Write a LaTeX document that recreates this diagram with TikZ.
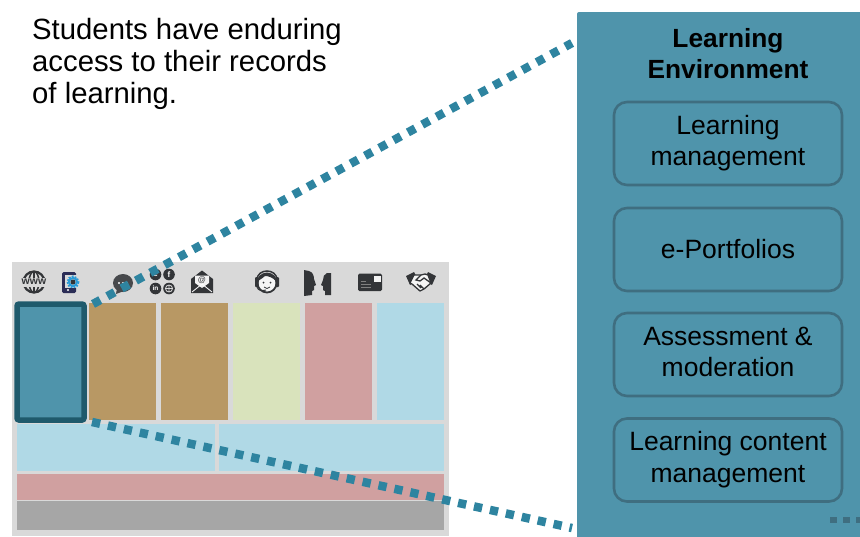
\documentclass[tikz,border=0pt]{standalone}
\usepackage{fontspec}
\setmainfont{Liberation Sans}
\usepackage{tikz}
\usetikzlibrary{calc}

\definecolor{panelteal}{HTML}{4F94AB}
\definecolor{edgeteal}{HTML}{3F6E80}
\definecolor{darkteal}{HTML}{1F5A6C}
\definecolor{dotteal}{HTML}{2E84A0}
\definecolor{wiregray}{HTML}{D9D9D9}
\definecolor{brownbox}{HTML}{B89864}
\definecolor{greenbox}{HTML}{D9E3BC}
\definecolor{pinkbox}{HTML}{D0A0A0}
\definecolor{bluebox}{HTML}{B0D9E6}
\definecolor{grayfoot}{HTML}{A6A6A6}
\definecolor{icondark}{HTML}{333538}
\definecolor{gearblue}{HTML}{2A9BD8}

\tikzset{
  wirebox/.style={inner sep=0, outer sep=0, anchor=north west},
  modbox/.style={draw=edgeteal, line width=2.6pt, rounded corners=13pt, minimum width=228pt, minimum height=83pt,
    inner sep=0, align=center, font=\fontsize{26.5}{31.5}\selectfont},
  dotline/.style={dotteal, line width=8.5pt, dash pattern=on 8.300pt off 8pt},
  iconfill/.style={fill=icondark, draw=none},
  iconline/.style={draw=icondark, line width=2.2pt},
  soclabel/.style={inner sep=0, text=white, font=\bfseries\fontsize{8}{8}\selectfont}
}

\begin{document}
\begin{tikzpicture}[x=1pt,y=-1pt]
  \useasboundingbox (0,0) rectangle (860,536);

  \node [anchor=north west, inner sep=0, align=left, font=\fontsize{29.3}{32}\selectfont] (note) at (32,18)
    {Students have enduring\\access to their records\\of learning.};

  \node [wirebox, fill=wiregray, minimum width=437pt, minimum height=274pt] (wire) at (12,262) {};

  \node [wirebox, fill=brownbox, minimum width=67pt, minimum height=117pt] (col2) at (89,303) {};
  \node [wirebox, fill=brownbox, minimum width=67pt, minimum height=117pt] (col3) at (161,303) {};
  \node [wirebox, fill=greenbox, minimum width=67pt, minimum height=117pt] (col4) at (233,303) {};
  \node [wirebox, fill=pinkbox, minimum width=67pt, minimum height=117pt] (col5) at (305,303) {};
  \node [wirebox, fill=bluebox, minimum width=67pt, minimum height=117pt] (col6) at (377,303) {};
  \node [wirebox, fill=bluebox, minimum width=198pt, minimum height=47pt] (rowa) at (17,424) {};
  \node [wirebox, fill=bluebox, minimum width=225pt, minimum height=47pt] (rowb) at (219,424) {};
  \node [wirebox, fill=pinkbox, minimum width=427pt, minimum height=26pt] (rowc) at (17,474) {};
  \node [wirebox, fill=grayfoot, minimum width=427pt, minimum height=29pt] (rowd) at (17,501) {};
  \node [draw=darkteal, fill=panelteal, line width=5.500pt, rounded corners=2pt, inner sep=0, outer sep=0,
    minimum width=67pt, minimum height=116pt, anchor=north west] (col1) at (17,304) {};

  % globe
  \draw [iconline] (34,282) circle (10.500);
  \draw [iconline, line width=1.500pt] (34,282) ellipse (5 and 10.500);
  \draw [iconline, line width=1.500pt] (34,271) -- (34,293);
  \fill [wiregray] (21,277.500) rectangle (47,286.500);
  \node [inner sep=0, text=icondark, font=\bfseries\fontsize{10.500}{10.500}\selectfont] (www) at (34,281.500) {www};

  % phone
  \fill [fill=icondark!85!blue, rounded corners=1.500pt] (62,272) rectangle (76,293);
  \fill [wiregray] (64.500,275) rectangle (80,288);
  \fill [white] (68,290) circle (1.200);
  \draw [draw=gearblue, line width=2pt, dash pattern=on 1.800pt off 1.200pt] (73,282) circle (5.500);
  \draw [draw=gearblue, line width=2pt] (73,282) circle (4);
  \fill [icondark] (73,282) circle (2.500);

  % chat
  \fill [fill=icondark!90!white] (123,283) ellipse (10 and 9);
  \fill [fill=icondark!90!white] (117,288) -- (116,294) -- (124,291) -- cycle;
  \fill [white] (119,283) circle (1.100) (123,283) circle (1.100) (127,283) circle (1.100);

  % social
  \fill [iconfill] (155.500,274.500) circle (5.800) (169,274.500) circle (5.800)
    (155.500,288.500) circle (5.800) (169,288.500) circle (5.800);
  \node [soclabel] (sa) at (155.500,274) {e};
  \node [soclabel] (sb) at (169,274.500) {f};
  \node [soclabel, font=\bfseries\fontsize{6.500}{6.500}\selectfont] (sc) at (155.500,288.500) {in};
  \draw [wiregray, line width=0.8pt] (169,288.500) circle (3.500) (165.500,288.500) -- (172.500,288.500) (169,285) -- (169,292);

  % envelope
  \fill [iconfill] (191,279) -- (202,270.500) -- (213,279) -- (213,293) -- (191,293) -- cycle;
  \fill [white!90!gray] (195,275.500) -- (209,275.500) -- (209,283) -- (202,288) -- (195,283) -- cycle;
  \draw [white, line width=0.8pt] (192,292) -- (202,284) -- (212,292);
  \node [inner sep=0, text=icondark, font=\fontsize{8}{8}\selectfont] (at) at (202,280.500) {@};

  % headset
  \draw [iconline, fill=white!92!gray, line width=1.800pt] (267,283) circle (9.500);
  \fill [iconfill] (258,281) .. controls (259,271) and (275,271) .. (276,281) .. controls (272,277) and (268,276) .. (265,276) .. controls (263,278) and (261,279) .. (258,281);
  \draw [iconline, line width=1.500pt] (257,280) .. controls (257,268) and (277,268) .. (277,280);
  \fill [iconfill, rounded corners=1pt] (255,277) rectangle (258.500,287) (275.500,277) rectangle (279,287);
  \draw [iconline, line width=1pt] (257,287) .. controls (258,291) and (262,291) .. (266,290);
  \fill [icondark] (263.500,282.500) circle (1) (270.500,282.500) circle (1);
  \draw [iconline, line width=0.8pt] (264,287) .. controls (266,289) and (268,289) .. (270,287);

  % two heads
  \fill [iconfill] (304,270) -- (309,271) .. controls (313,272) and (314,276) .. (314,279) -- (316,285) -- (314,286) -- (314,290)
    -- (312,291) -- (312,295) -- (304,296) -- cycle;
  \fill [iconfill] (331,273) -- (327,273) .. controls (324,274) and (323,277) .. (323,280) -- (321,285) -- (323,286) -- (323,290)
    -- (325,291) -- (325,295) -- (331,295) -- cycle;

  % card
  \fill [iconfill, rounded corners=1.500pt] (358,273.500) rectangle (382,291);
  \fill [white!90!gray] (374,275.500) rectangle (380.500,282);
  \draw [gray, line width=0.8pt] (361,281.500) -- (366,281.500) (361,284.500) -- (371,284.500) (361,287.500) -- (371,287.500);

  % handshake
  \fill [iconfill] (406,276) -- (414,272) -- (418,280) -- (410,285) -- cycle;
  \fill [iconfill] (436,276) -- (428,272) -- (424,280) -- (432,285) -- cycle;
  \fill [white!92!gray, draw=icondark, line width=1.300pt, line join=round] (414,275) -- (421,275) -- (425,274) -- (428,275) -- (431,283) -- (424,289) -- (420,291) -- (412,284) -- (410,283) -- cycle;
  \draw [icondark, line width=1.300pt] (421,275) -- (416,280) -- (420,281) -- (424,278) -- (431,283)
    (424,289) -- (420,285) (421,288) -- (417,284);

  \node [fill=panelteal, rounded corners=2pt, inner sep=0, outer sep=0, minimum width=300pt, minimum height=540pt, anchor=north west] (panel) at (577,12) {};

  \node [inner sep=0, align=center, font=\bfseries\fontsize{26.3}{31.5}\selectfont] (title) at (728,53.500) {Learning\\Environment};
  \node [modbox] (lms) at (728,143.500) {\strut Learning\\\strut management};
  \node [modbox] (port) at (728,249.500) {e-Portfolios};
  \node [modbox] (assess) at (728,354.500) {\strut Assessment \&\\\strut moderation};
  \node [modbox] (lcm) at (728,460) {\strut Learning content\\\strut management};

  \coordinate (upstart) at (93,304);
  \coordinate (upend) at (572,43);
  \coordinate (lowstart) at (92,422);
  \coordinate (lowend) at (572,528);
  \coordinate (morestart) at (830,520);
  \coordinate (moreend) at (862,520);

  \draw [dotline] (upstart) -- (upend);
  \draw [dotline] (lowstart) -- (lowend);
  \draw [edgeteal, line width=6pt, dash pattern=on 7pt off 6pt] (morestart) -- (moreend);
\end{tikzpicture}
\end{document}
